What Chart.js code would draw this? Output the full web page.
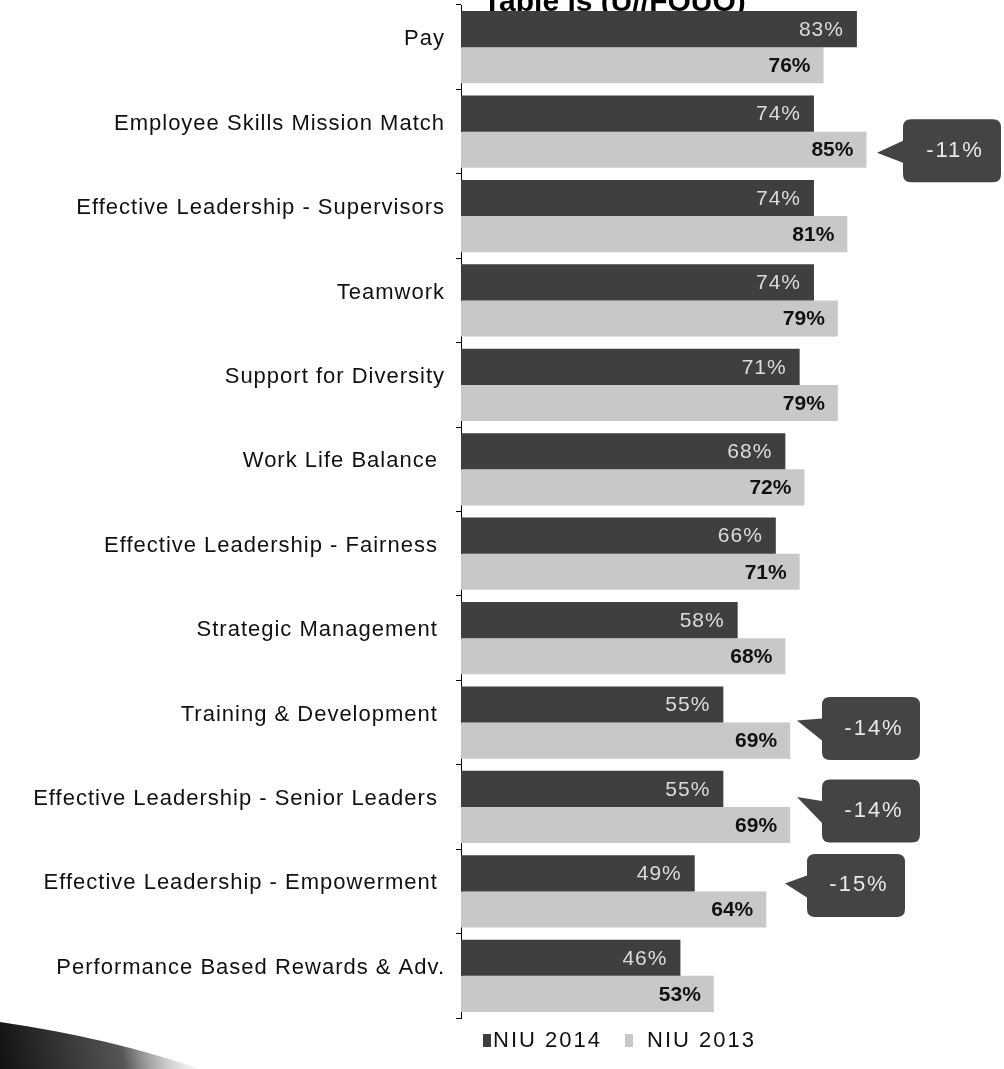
<!DOCTYPE html>
<html>
<head>
<meta charset="utf-8">
<script src="https://cdn.jsdelivr.net/npm/chart.js@4.4.1/dist/chart.umd.min.js"></script>
<style>
html,body{margin:0;padding:0;background:#fff;}
#wrap{position:relative;width:1004px;height:1069px;}
</style>
</head>
<body>
<div id="wrap"><canvas id="c" width="1004" height="1069"></canvas></div>
<script>
const categories = [
  "Pay",
  "Employee Skills Mission Match",
  "Effective Leadership - Supervisors",
  "Teamwork",
  "Support for Diversity",
  "Work Life Balance ",
  "Effective Leadership - Fairness ",
  "Strategic Management ",
  "Training & Development ",
  "Effective Leadership - Senior Leaders ",
  "Effective Leadership - Empowerment ",
  "Performance Based Rewards & Adv."
];
const niu2014 = [83, 74, 74, 74, 71, 68, 66, 58, 55, 55, 49, 46];
const niu2013 = [76, 85, 81, 79, 79, 72, 71, 68, 69, 69, 64, 53];
const seriesNames = ["NIU 2014", "NIU 2013"];
const calloutCategories = [1, 8, 9, 10];
const calloutTexts = ["-11%", "-14%", "-14%", "-15%"];
const titleText = "Table is (U//FOUO)";

// style-only: callout geometry
const calloutStyle = [
  {boxX: 903, dy: 19, tipX: 877, tipDy: 10},
  {boxX: 822, dy: 6, tipX: 797, tipDy: 0},
  {boxX: 822, dy: 4, tipX: 797, tipDy: -6},
  {boxX: 807, dy: -6, tipX: 785, tipDy: 6}
];
const FONT = '"Liberation Sans", Arial, sans-serif';

const decoPlugin = {
  id: 'deco',
  beforeDraw(chart) {
    const ctx = chart.ctx;
    ctx.save();
    const g = ctx.createLinearGradient(0, 1069, 200, 1030);
    g.addColorStop(0, '#111');
    g.addColorStop(0.6, '#555');
    g.addColorStop(1, 'rgba(200,200,200,0)');
    ctx.fillStyle = g;
    ctx.beginPath();
    ctx.moveTo(0, 1022);
    ctx.quadraticCurveTo(110, 1038, 200, 1069);
    ctx.lineTo(0, 1069);
    ctx.closePath();
    ctx.fill();
    ctx.fillStyle = '#000';
    ctx.font = 'bold 30px ' + FONT;
    ctx.textAlign = 'left';
    ctx.textBaseline = 'alphabetic';
    ctx.fillText(titleText, 483, 11);
    ctx.restore();
    ctx.letterSpacing = '1px';
  },
  afterDatasetsDraw(chart) {
    const ctx = chart.ctx;
    ctx.save();
    chart.data.datasets.forEach((ds, di) => {
      const meta = chart.getDatasetMeta(di);
      meta.data.forEach((bar, i) => {
        ctx.textAlign = 'right';
        ctx.textBaseline = 'middle';
        if (di === 0) {
          ctx.font = '21px ' + FONT;
          ctx.fillStyle = '#dcdcdc';
          ctx.letterSpacing = '1px';
        } else {
          ctx.font = 'bold 21px ' + FONT;
          ctx.fillStyle = '#111';
          ctx.letterSpacing = '0px';
        }
        ctx.fillText(ds.data[i] + '%', bar.x - 13, bar.y + 1);
      });
    });
    const yScale = chart.scales.y;
    calloutCategories.forEach((ci, k) => {
      const st = calloutStyle[k];
      const cy = yScale.getPixelForValue(ci) + st.dy;
      const w = 98, h = 63, r = 8;
      const x = st.boxX, y = cy - h / 2;
      ctx.fillStyle = '#444';
      ctx.beginPath();
      ctx.moveTo(x + r, y);
      ctx.lineTo(x + w - r, y);
      ctx.quadraticCurveTo(x + w, y, x + w, y + r);
      ctx.lineTo(x + w, y + h - r);
      ctx.quadraticCurveTo(x + w, y + h, x + w - r, y + h);
      ctx.lineTo(x + r, y + h);
      ctx.quadraticCurveTo(x, y + h, x, y + h - r);
      ctx.lineTo(x, cy + 12);
      ctx.lineTo(st.tipX, cy - 8 + st.tipDy);
      ctx.lineTo(x, cy - 10);
      ctx.lineTo(x, y + r);
      ctx.quadraticCurveTo(x, y, x + r, y);
      ctx.closePath();
      ctx.fill();
      ctx.fillStyle = '#e8e8e8';
      ctx.font = '22px ' + FONT;
      ctx.letterSpacing = '2px';
      ctx.textAlign = 'center';
      ctx.textBaseline = 'middle';
      ctx.fillText(calloutTexts[k], x + w / 2 + 3, cy);
    });
    const lx = [483, 625];
    chart.data.datasets.forEach((ds, di) => {
      ctx.fillStyle = ds.backgroundColor;
      ctx.fillRect(lx[di], 1034, 8, 13);
      ctx.fillStyle = '#111';
      ctx.font = '22px ' + FONT;
      ctx.letterSpacing = '2px';
      ctx.textAlign = 'left';
      ctx.textBaseline = 'middle';
      ctx.fillText(ds.label, lx[di] + (di === 0 ? 10 : 22), 1041);
    });
    ctx.restore();
  }
};

new Chart(document.getElementById('c'), {
  type: 'bar',
  data: {
    labels: categories,
    datasets: [
      {label: seriesNames[0], data: niu2014, backgroundColor: '#3f3f3f', borderWidth: 0},
      {label: seriesNames[1], data: niu2013, backgroundColor: '#c8c8c8', borderWidth: 0}
    ]
  },
  options: {
    indexAxis: 'y',
    responsive: false,
    animation: false,
    devicePixelRatio: 1,
    layout: {padding: {left: 0, right: 66, top: 5, bottom: 51}},
    datasets: {bar: {categoryPercentage: 0.855, barPercentage: 1.0}},
    plugins: {legend: {display: false}, tooltip: {enabled: false}, title: {display: false}},
    scales: {
      x: {min: 0, max: 100, display: false, grid: {display: false}},
      y: {
        afterFit(scale) { scale.width = 461; scale.paddingTop = 0; scale.paddingBottom = 0; },
        border: {display: true, color: '#000', width: 1},
        grid: {display: true, drawOnChartArea: false, offset: true, color: '#000', tickLength: 5},
        ticks: {
          color: '#111',
          font: {family: FONT, size: 22},
          padding: 11,
          labelOffset: -8,
          autoSkip: false
        }
      }
    }
  },
  plugins: [decoPlugin]
});
</script>
</body>
</html>
